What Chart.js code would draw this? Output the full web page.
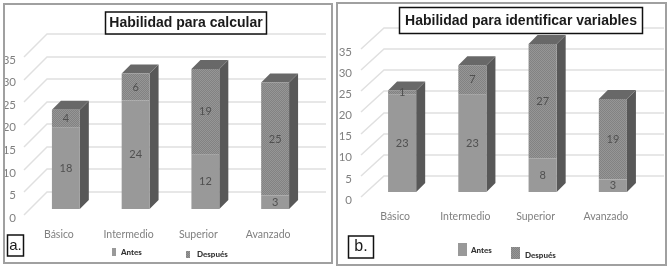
<!DOCTYPE html>
<html><head><meta charset="utf-8">
<script src="https://cdn.jsdelivr.net/npm/chart.js@4/dist/chart.umd.min.js"></script>
<style>
html,body{margin:0;padding:0;background:#fff;overflow:hidden}
canvas{position:absolute;top:0;left:0;filter:blur(.45px)}
.w{position:absolute;top:0;width:336px;height:271px}
</style></head><body>
<div class="w" style="left:0"><canvas id="a" width="336" height="271"></canvas></div>
<div class="w" style="left:336px"><canvas id="b" width="336" height="271"></canvas></div>
<script>
const categories = ["Básico","Intermedio","Superior","Avanzado"];
const seriesNames = ["Antes","Después"];
const calcAntes = [18,24,12,3];
const calcDespues = [4,6,19,25];
const varAntes = [23,23,8,3];
const varDespues = [1,7,27,19];
const yTicks = [0,5,10,15,20,25,30,35];
const titleA = "Habilidad para calcular";
const titleB = "Habilidad para identificar variables";
const panelA = "a.";
const panelB = "b.";

function texture(){
  const c=document.createElement('canvas');c.width=c.height=2;
  const g=c.getContext('2d');
  g.fillStyle='#969696';g.fillRect(0,0,2,2);
  g.fillStyle='#828282';g.fillRect(0,0,1,1);g.fillRect(1,1,1,1);
  return g.createPattern(c,'repeat');
}
const NARROW='Lato,sans-serif';
const panelPlugin={
  id:'panel3d',
  beforeDatasetsDraw(ch,a,o){
    const {ctx,scales:{y}}=ch;
    ctx.save();
    ctx.strokeStyle='#a0a0a0';ctx.lineWidth=2;
    ctx.strokeRect(o.frame[0],o.frame[1],o.frame[2],o.frame[3]);
    ctx.strokeStyle='#e0e0e0';ctx.lineWidth=1.5;
    y.ticks.forEach(t=>{
      const py=Math.round(y.getPixelForValue(t.value));
      ctx.beginPath();
      ctx.moveTo(o.wallX-23,py-3);
      ctx.lineTo(o.wallX,py+o.wallShift);
      ctx.lineTo(o.gridEnd,py+o.wallShift);
      ctx.stroke();
    });
    ctx.restore();
    ctx.save();
    ctx.translate(0,o.barShift);
    const lower=ch.getDatasetMeta(0).data, upper=ch.getDatasetMeta(1).data;
    const d=o.depth;
    upper.forEach((b,i)=>{
      const r=b.x+b.width/2, l=b.x-b.width/2, base=lower[i].base;
      ctx.fillStyle='#585858';
      ctx.beginPath();ctx.moveTo(r,b.y);ctx.lineTo(r+d,b.y-d);ctx.lineTo(r+d,base-d);ctx.lineTo(r,base);ctx.closePath();ctx.fill();
      ctx.fillStyle='#686868';
      ctx.beginPath();ctx.moveTo(l,b.y);ctx.lineTo(l+d,b.y-d);ctx.lineTo(r+d,b.y-d);ctx.lineTo(r,b.y);ctx.closePath();ctx.fill();
    });
  },
  afterDatasetsDraw(ch,a,o){
    const {ctx}=ch;
    ctx.font='11px '+NARROW;ctx.fillStyle='#505050';ctx.textAlign='center';ctx.textBaseline='middle';
    ch.data.datasets.forEach((ds,i)=>ch.getDatasetMeta(i).data.forEach((b,j)=>{
      ctx.fillText(String(ds.data[j]),b.x,(b.y+b.base)/2);
    }));
    ctx.restore();
  },
  afterDraw(ch,a,o){
    const {ctx}=ch;
    ctx.save();
    const t=o.titleBox;
    ctx.fillStyle='#fff';ctx.fillRect(t[0],t[1],t[2],t[3]);
    ctx.strokeStyle='#111';ctx.lineWidth=1.5;ctx.strokeRect(t[0],t[1],t[2],t[3]);
    ctx.fillStyle='#1a1a1a';ctx.font='bold '+o.titleSize+'px "Liberation Sans",Arial,sans-serif';
    ctx.textAlign='center';ctx.textBaseline='middle';
    ctx.fillText(o.title,t[0]+t[2]/2,t[1]+t[3]/2+0.5);
    const p=o.letterBox;
    ctx.fillStyle='#fff';ctx.fillRect(p[0],p[1],p[2],p[3]);
    ctx.strokeRect(p[0],p[1],p[2],p[3]);
    ctx.fillStyle='#1a1a1a';ctx.font=o.letterSize+'px "Liberation Sans",Arial,sans-serif';
    ctx.fillText(o.letter,p[0]+p[2]/2,p[1]+p[3]/2);
    ctx.textAlign='left';ctx.font='900 8px '+NARROW;
    o.legend.forEach((e,i)=>{
      ctx.fillStyle=ch.data.datasets[i].backgroundColor;
      ctx.fillRect(e[0],e[1],e[2],e[3]);
      ctx.fillStyle='#333';
      ctx.fillText(ch.data.datasets[i].label,e[4],e[5]);
    });
    ctx.restore();
  }
};
function build(id,antes,despues,opt){
  new Chart(document.getElementById(id),{
    type:'bar',
    data:{labels:categories,datasets:[
      {label:seriesNames[0],data:antes,backgroundColor:'#999999',stack:'s',clip:false,barPercentage:0.4,categoryPercentage:1},
      {label:seriesNames[1],data:despues,backgroundColor:texture(),stack:'s',clip:false,barPercentage:0.4,categoryPercentage:1}
    ]},
    plugins:[panelPlugin],
    options:{
      responsive:false,animation:false,
      layout:{padding:{top:opt.top,right:opt.right,left:0,bottom:0}},
      plugins:{legend:{display:false},title:{display:false},tooltip:{enabled:false},panel3d:opt.panel},
      scales:{
        x:{stacked:true,grid:{display:false},border:{display:false},
           afterFit(s){s.height=271-opt.bottom;},
           ticks:{color:'#808080',font:{family:NARROW,size:10.5},padding:2,labelOffset:-7,maxRotation:0,autoSkip:false}},
        y:{stacked:true,min:0,max:35,grid:{display:false},border:{display:false},
           afterFit(s){s.width=31;},
           afterBuildTicks(s){s.ticks=yTicks.map(v=>({value:v}));},
           ticks:{color:'#808080',font:{family:NARROW,size:11.5},padding:7}}
      }
    }
  });
}
build('a',calcAntes,calcDespues,{top:60,bottom:218,right:26,panel:{
  frame:[4,4,328,259],wallX:47,wallShift:-26,gridEnd:326,barShift:-9,depth:9,
  title:titleA,titleSize:14,titleBox:[105.5,12,161,22],
  letter:panelA,letterSize:15,letterBox:[7.5,235,16,21],
  legend:[[112,248,4,8,121,252],[186,251,4,7,197,254.5]]
}});
build('b',varAntes,varDespues,{top:52,bottom:200,right:24,panel:{
  frame:[1,3,329,262],wallX:48,wallShift:-24,gridEnd:328,barShift:-8,depth:9,
  title:titleB,titleSize:14,titleBox:[63.5,7.5,243,26],
  letter:panelB,letterSize:16,letterBox:[12.5,236,25,22],
  legend:[[122,243,9,13,135,250],[175,247,9,12,189,255]]
}});
</script>
</body></html>
